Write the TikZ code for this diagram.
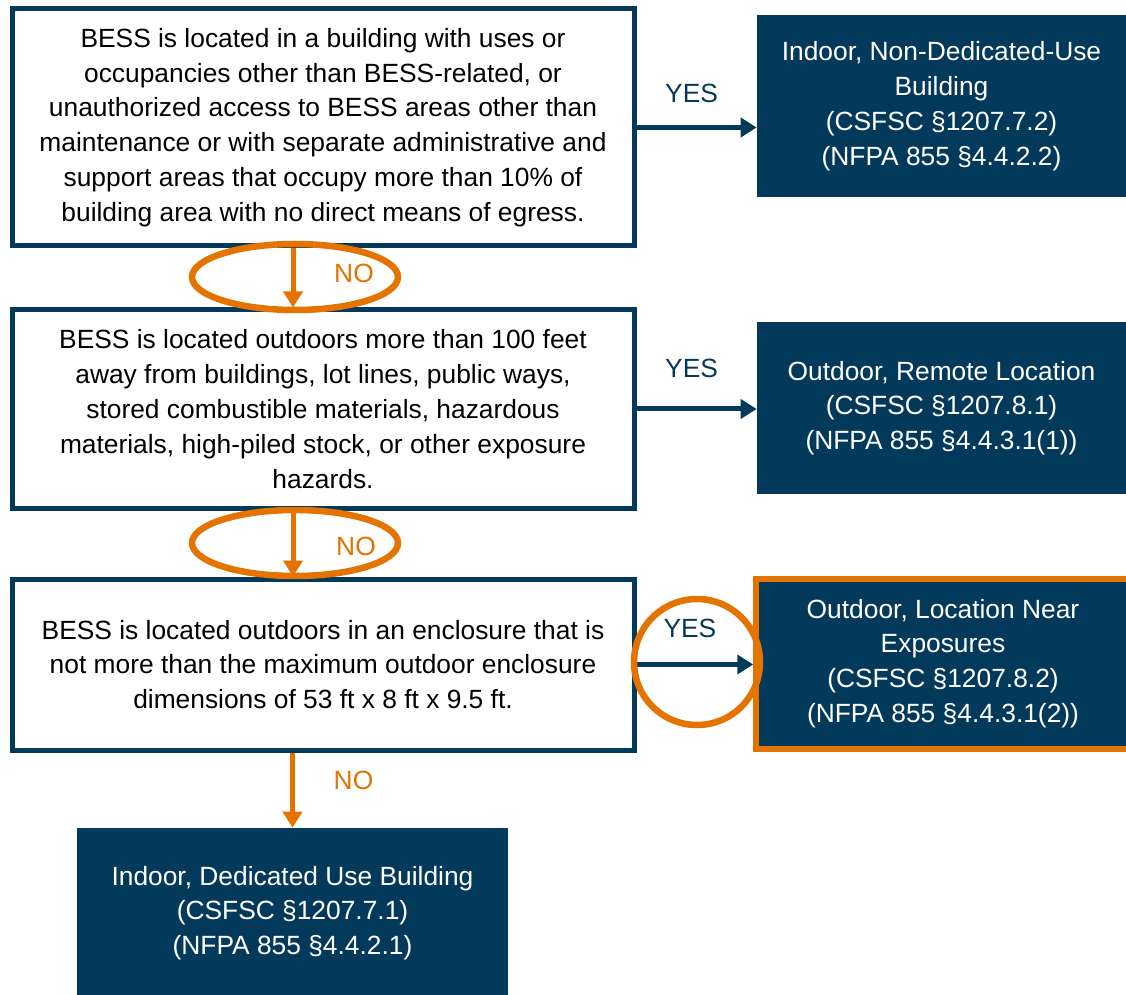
\documentclass[tikz,border=0pt]{standalone}
\usepackage{fontspec}
\setmainfont{Liberation Sans}
\usetikzlibrary{arrows.meta}
\usetikzlibrary{shapes}
\definecolor{bessblue}{RGB}{3,57,90}
\definecolor{bessorange}{RGB}{228,115,0}

\begin{document}
\begin{tikzpicture}[
    question/.style={draw=bessblue, line width=0.1cm, fill=white, align=center, inner sep=0pt},
    answer/.style={fill=bessblue, text=white, align=center, inner sep=0pt},
    yesarrow/.style={draw=bessblue, line width=0.1cm, -{Triangle[length=0.32cm,width=0.38cm]}},
    noarrow/.style={draw=bessorange, line width=0.1cm, -{Triangle[length=0.32cm,width=0.38cm]}},
    ring/.style={draw=bessorange, line width=0.13cm},
    yeslabel/.style={text=bessblue},
    nolabel/.style={text=bessorange},
    font=\fontsize{15}{19.8}\selectfont
  ]
  \useasboundingbox (0, 0) rectangle (22.52, -19.9);
  % questions
  \node[question, minimum width=12.44cm, minimum height=4.74cm] (q1) at (6.46, -2.55)
    {BESS is located in a building with uses or\\
     occupancies other than BESS-related, or\\
     unauthorized access to BESS areas other than\\
     maintenance or with separate administrative and\\
     support areas that occupy more than 10\% of\\
     building area with no direct means of egress.};
  \node[question, minimum width=12.44cm, minimum height=3.96cm] (q2) at (6.46, -8.18)
    {BESS is located outdoors more than 100 feet\\
     away from buildings, lot lines, public ways,\\
     stored combustible materials, hazardous\\
     materials, high-piled stock, or other exposure\\
     hazards.};
  \node[question, minimum width=12.44cm, minimum height=3.42cm] (q3) at (6.46, -13.29)
    {BESS is located outdoors in an enclosure that is\\
     not more than the maximum outdoor enclosure\\
     dimensions of 53 ft x 8 ft x 9.5 ft.};
  % answers
  \node[answer, minimum width=7.38cm, minimum height=3.64cm] (r1) at (18.83, -2.12)
    {Indoor, Non-Dedicated-Use\\ Building\\ (CSFSC §1207.7.2)\\ (NFPA 855 §4.4.2.2)};
  \node[answer, minimum width=7.38cm, minimum height=3.44cm] (r2) at (18.83, -8.16)
    {Outdoor, Remote Location\\ (CSFSC §1207.8.1)\\ (NFPA 855 §4.4.3.1(1))};
  \node[answer, draw=bessorange, line width=0.12cm, minimum width=7.47cm, minimum height=3.4cm] (r3) at (18.86, -13.27)
    {Outdoor, Location Near\\ Exposures\\ (CSFSC §1207.8.2)\\ (NFPA 855 §4.4.3.1(2))};
  \node[answer, minimum width=8.62cm, minimum height=3.4cm] (r4) at (5.85, -18.26)
    {Indoor, Dedicated Use Building\\ (CSFSC §1207.7.1)\\ (NFPA 855 §4.4.2.1)};
  % yes
  \draw[yesarrow] (q1.east) -- (q1.east -| r1.west) node[midway, yeslabel, xshift=-0.1cm, yshift=0.68cm] {YES};
  \draw[yesarrow] (q2.east) -- (q2.east -| r2.west) node[midway, yeslabel, xshift=-0.1cm, yshift=0.82cm] {YES};
  \draw[yesarrow] (q3.east) -- (q3.east -| r3.west) node[midway, yeslabel, xshift=-0.1cm, yshift=0.72cm] {YES};
  % no
  \draw[noarrow] ([xshift=-0.6cm]q1.south) -- ([xshift=-0.6cm]q2.north) node[midway, nolabel, xshift=1.22cm, yshift=0.1cm] {NO};
  \draw[noarrow] ([xshift=-0.6cm]q2.south) -- ([xshift=-0.6cm]q3.north) node[midway, nolabel, xshift=1.26cm, yshift=-0.05cm] {NO};
  \draw[noarrow] (q3.south -| r4.north) -- (r4.north) node[midway, nolabel, xshift=1.22cm, yshift=0.2cm] {NO};
  % highlights
  \draw[ring] (5.9, -5.54) ellipse (2.06 and 0.66);
  \draw[ring] (5.9, -10.86) ellipse (2.06 and 0.66);
  \draw[ring] (13.94, -13.24) circle (1.26);
\end{tikzpicture}
\end{document}
